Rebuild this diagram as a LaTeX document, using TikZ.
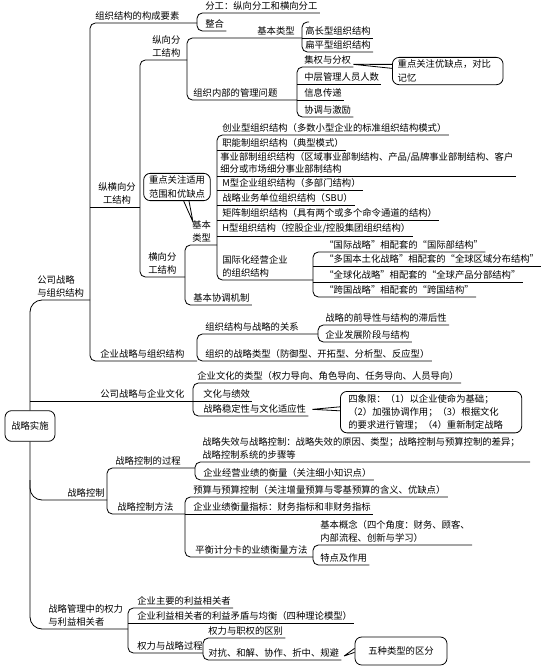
\documentclass[tikz,border=0pt]{standalone}
\usepackage{fontspec}
\setmainfont{Noto Sans CJK SC}
\newcommand{\fs}{\fontsize{7pt}{10pt}\selectfont}

\begin{document}
\begin{tikzpicture}[x=0.75pt, y=-0.75pt, line width=0.6pt,
  lbl/.style={anchor=south west, inner xsep=1.5pt, inner ysep=1.5pt, font=\fs, align=left},
  rnd/.style={rounded corners=4pt},
  note/.style={draw, rounded corners=5pt, font=\fs, align=left}]
  \useasboundingbox (0,0) rectangle (549,667);

  % root
  \node[draw, rounded corners=5pt, font=\fs, minimum width=37.5pt, minimum height=23pt] (root) at (30,426) {战略实施};
  \coordinate (s1) at (90,300);
  \draw[rounded corners=9pt] (s1) -- (30,300) -- (root.north);
  \draw[rounded corners=9pt] (root.south) -- (30,629) -- (128,629);
  \draw[rounded corners=9pt] (30,480) -- (30,500) -- (107,500);

  % 公司战略与组织结构
  \node[lbl] (gs) at (35,300) {公司战略\\与组织结构};
  \node[lbl] (ys) at (93,23) {组织结构的构成要素};
  \node[lbl] (fg) at (203,13) {分工：纵向分工和横向分工};
  \node[lbl] (zh) at (203,31) {整合};
  \draw[rnd] (197,23) -- (90,23) -- (90,361) -- (197,361);
  \draw[rnd] (fg.south east) -- (197,13) -- (197,31) -- (zh.south east);

  \node[lbl, align=center] (zhx) at (96,207) {纵横向分\\工结构};
  \node[lbl, align=center] (zx) at (150,60) {纵向分\\工结构};
  \node[lbl, align=center] (hx) at (146,277) {横向分\\工结构};
  \draw (90,207) -- (140,207);
  \draw[rnd] (187,60) -- (140,60) -- (140,277) -- (185,277);

  \node[lbl] (jb1) at (255,38) {基本类型};
  \node[lbl] (gc) at (303,38) {高长型组织结构};
  \node[lbl] (bp) at (303,52) {扁平型组织结构};
  \node[lbl] (gl) at (191,100) {组织内部的管理问题};
  \draw[rnd] (302,38) -- (187,38) -- (187,100) -- (297,100);
  \draw[rnd] (309,22) -- (302,22) -- (302,52) -- (bp.south east);
  \draw (302,38) -- (gc.south east);

  \node[lbl] (jq) at (302,67) {集权与分权};
  \node[lbl] (zc) at (302,84) {中层管理人员人数};
  \node[lbl] (xx) at (302,100) {信息传递};
  \node[lbl] (xt) at (302,117) {协调与激励};
  \draw[rnd] (jq.south east) -- (297,67) -- (297,117) -- (xt.south east);
  \draw (297,84) -- (zc.south east);
  \draw (297,100) -- (xx.south east);
  \node[note, anchor=north west, text width=75pt, inner xsep=4pt, inner ysep=2pt] (nt1) at (392,57) {重点关注优缺点，对比\\记忆};
  \draw ([yshift=2pt]jq.south east) -- ([yshift=5pt]nt1.west)
        ([yshift=2pt]jq.south east) -- ([yshift=2pt]nt1.west);

  % 横向分工结构
  \node[note, align=center, inner xsep=4pt, inner ysep=2pt] (nt2) at (177,187) {重点关注适用\\范围和优缺点};
  \node[lbl, align=center] (jb2) at (190,245) {基本\\类型};
  \coordinate (t2) at (193,222);
  \draw ([xshift=5pt]nt2.south) -- (t2) -- ([xshift=9pt]nt2.south);
  \node[lbl] (cy) at (220,135) {创业型组织结构（多数小型企业的标准组织结构模式）};
  \node[lbl] (zn) at (220,150) {职能制组织结构（典型模式）};
  \node[lbl, font=\fontsize{7pt}{9pt}\selectfont] (sy) at (218,176) {事业部制组织结构（区域事业部制结构、产品/品牌事业部制结构、客户\\细分或市场细分事业部制结构};
  \node[lbl] (mx) at (220,190) {M型企业组织结构（多部门结构）};
  \node[lbl] (sbu) at (220,205) {战略业务单位组织结构（SBU）};
  \node[lbl] (jz) at (220,220) {矩阵制组织结构（具有两个或多个命令通道的结构）};
  \node[lbl] (hxz) at (220,236) {H型组织结构（控股企业/控股集团组织结构）};
  \node[lbl] (gjh) at (220,280) {国际化经营企业\\的组织结构};
  \draw[rnd] (cy.south east) -- (217,135) -- (217,280) -- (313,280);
  \draw (217,150) -- (zn.south east);
  \draw (217,176) -- (sy.south east);
  \draw (217,190) -- (mx.south east);
  \draw (217,205) -- (sbu.south east);
  \draw (217,220) -- (jz.south east);
  \draw (217,236) -- (hxz.south east);

  \node[lbl] (gj1) at (322,252) {“国际战略”相配套的“国际部结构”};
  \node[lbl] (gj2) at (322,266) {“多国本土化战略”相配套的“全球区域分布结构”};
  \node[lbl] (gj3) at (322,282) {“全球化战略”相配套的“全球产品分部结构”};
  \node[lbl] (gj4) at (322,297) {“跨国战略”相配套的“跨国结构”};
  \draw[rnd] (gj1.south east) -- (313,252) -- (313,297) -- (gj4.south east);
  \draw (313,266) -- (gj2.south east);
  \draw (313,282) -- (gj3.south east);

  \node[lbl] (xt2) at (191,305) {基本协调机制};
  \draw[rnd] (217,245) -- (185,245) -- (185,305) -- (xt2.south east);

  % 企业战略与组织结构
  \node[lbl] (qz) at (98,361) {企业战略与组织结构};
  \node[lbl] (gx) at (203,334) {组织结构与战略的关系};
  \node[lbl] (lx) at (203,361) {组织的战略类型（防御型、开拓型、分析型、反应型）};
  \node[lbl] (qd) at (323,325) {战略的前导性与结构的滞后性};
  \node[lbl] (fz) at (323,342) {企业发展阶段与结构};
  \draw[rnd] (318,334) -- (197,334) -- (197,361) -- (lx.south east);
  \draw[rnd] (qd.south east) -- (318,325) -- (318,342) -- (fz.south east);

  % 公司战略与企业文化
  \node[lbl] (wh) at (98,401) {公司战略与企业文化};
  \node[lbl] (lxw) at (195,383) {企业文化的类型（权力导向、角色导向、任务导向、人员导向）};
  \node[lbl] (jx) at (201,401) {文化与绩效};
  \node[lbl] (wd) at (201,416) {战略稳定性与文化适应性};
  \draw (30,401) -- (jx.south east);
  \draw[rnd] (lxw.south east) -- (193,383) -- (193,416) -- (wd.south east);
  \node[note, anchor=north west, text width=124pt, inner xsep=6pt, inner ysep=2pt] (nt3) at (340,391) {四象限：（1）以企业使命为基础；\\（2）加强协调作用；（3）根据文化\\的要求进行管理；（4）重新制定战略};
  \draw ([xshift=3pt,yshift=5pt]wd.south east) -- ([yshift=4pt]nt3.west)
        ([xshift=3pt,yshift=5pt]wd.south east) -- ([yshift=1pt]nt3.west);

  % 战略控制
  \node[lbl] (kz) at (65,500) {战略控制};
  \node[lbl] (gc2) at (113,468) {战略控制的过程};
  \node[lbl] (ff) at (115,514) {战略控制方法};
  \draw[rnd] (195,468) -- (107,468) -- (107,514) -- (185,514);
  \node[lbl, text width=244pt] (sx) at (200,462) {战略失效与战略控制：战略失效的原因、类型；战略控制与预算控制的差异；\\战略控制系统的步骤等};
  \node[lbl] (yj) at (201,480) {企业经营业绩的衡量（关注细小知识点）};
  \draw[rnd] (sx.south east) -- (195,462) -- (195,480) -- (yj.south east);
  \node[lbl] (ysk) at (191,497) {预算与预算控制（关注增量预算与零基预算的含义、优缺点）};
  \node[lbl] (zb) at (191,514) {企业业绩衡量指标：财务指标和非财务指标};
  \node[lbl] (ph) at (193,557) {平衡计分卡的业绩衡量方法};
  \draw[rnd] (ysk.south east) -- (185,497) -- (185,557) -- (313,557);
  \draw (185,514) -- (zb.south east);
  \node[lbl] (gn) at (318,545) {基本概念（四个角度：财务、顾客、\\内部流程、创新与学习）};
  \node[lbl] (td) at (318,565) {特点及作用};
  \draw[rnd] (gn.south east) -- (313,545) -- (313,565) -- (td.south east);

  % 战略管理中的权力与利益相关者
  \node[lbl] (lyl) at (46,629) {战略管理中的权力\\与利益相关者};
  \node[lbl] (zy) at (135,608) {企业主要的利益相关者};
  \node[lbl] (mj) at (135,623) {企业利益相关者的利益矛盾与均衡（四种理论模型）};
  \node[lbl] (qg) at (135,653) {权力与战略过程};
  \draw[rnd] (zy.south east) -- (128,608) -- (128,653) -- (203,653);
  \draw (128,623) -- (mj.south east);
  \node[lbl] (zq) at (206,638) {权力与职权的区别};
  \node[lbl] (dk) at (206,660) {对抗、和解、协作、折中、规避};
  \draw[rnd] (zq.south east) -- (203,638) -- (203,660) -- (dk.south east);
  \node[note, align=center, minimum width=69pt, minimum height=21pt] (nt4) at (401,651) {五种类型的区分};
  \draw ([xshift=2pt,yshift=3pt]dk.south east) -- ([yshift=2pt]nt4.west)
        ([xshift=2pt,yshift=3pt]dk.south east) -- ([yshift=-1pt]nt4.west);
\end{tikzpicture}
\end{document}
